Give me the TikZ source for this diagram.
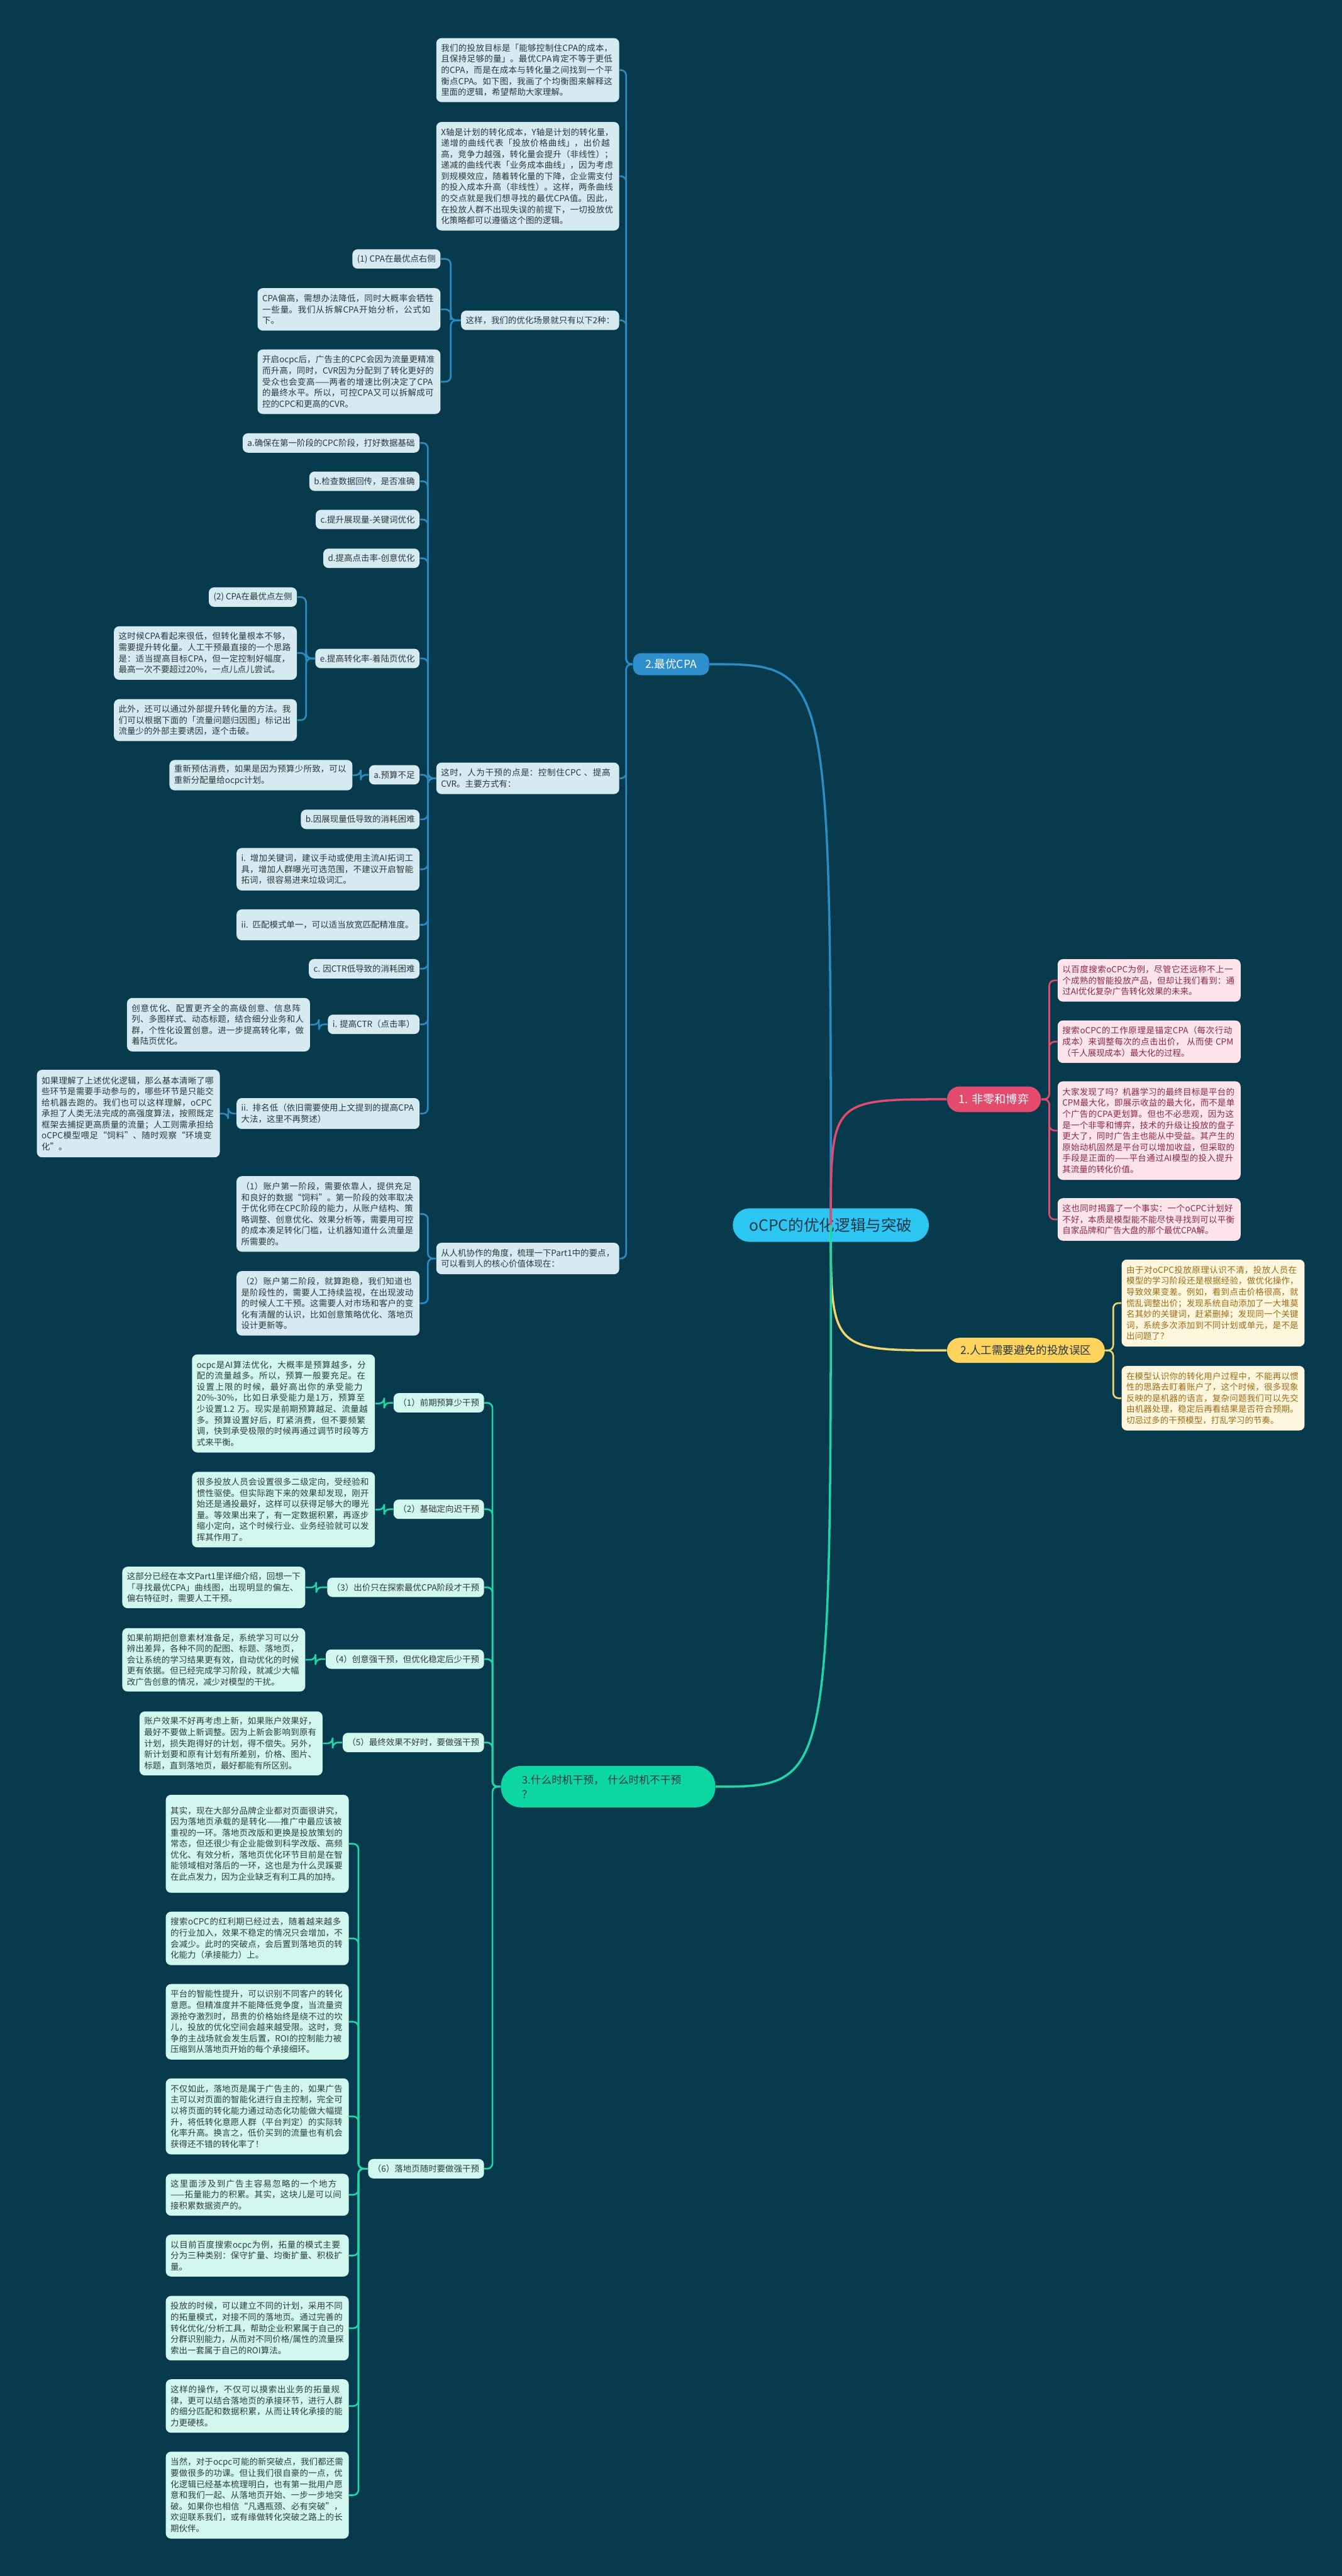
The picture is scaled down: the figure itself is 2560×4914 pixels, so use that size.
\documentclass[tikz,border=0pt]{standalone}
\usepackage{fontspec}
\setmainfont{Noto Sans CJK SC}
\XeTeXlinebreaklocale "zh"
\XeTeXlinebreakskip=0pt plus 1pt
\usetikzlibrary{calc}
\definecolor{bgc}{RGB}{8,58,77}
\definecolor{cB}{RGB}{43,140,196}
\definecolor{cBbox}{RGB}{46,143,205}
\definecolor{cBfill}{RGB}{214,234,241}
\definecolor{cBtext}{RGB}{45,55,62}
\definecolor{cP}{RGB}{228,74,110}
\definecolor{cPfill}{RGB}{253,228,234}
\definecolor{cPtext}{RGB}{140,40,70}
\definecolor{cY}{RGB}{243,213,110}
\definecolor{cYbox}{RGB}{255,211,92}
\definecolor{cYfill}{RGB}{255,246,222}
\definecolor{cYtext}{RGB}{156,108,20}
\definecolor{cG}{RGB}{30,214,167}
\definecolor{cGbox}{RGB}{12,214,162}
\definecolor{cGfill}{RGB}{210,247,238}
\definecolor{cGtext}{RGB}{45,60,60}
\definecolor{cRoot}{RGB}{44,198,243}
\definecolor{cDark}{RGB}{35,55,70}
\tikzset{
  box/.style={rounded corners=0.1cm, text width=3.31cm, align=left},
  midbox/.style={rounded corners=0.1cm, minimum height=0.37cm},
  bleaf/.style={box, fill=cBfill, text=cBtext, anchor=north east},
  gleaf/.style={box, fill=cGfill, text=cGtext, anchor=north east},
  pleaf/.style={box, fill=cPfill, text=cPtext, anchor=north west},
  yleaf/.style={box, fill=cYfill, text=cYtext, anchor=north west},
  bmid/.style={midbox, fill=cBfill, text=cBtext, anchor=east},
  gmid/.style={midbox, fill=cGfill, text=cGtext, anchor=east},
  link/.style={to path={-| ($(\tikztostart)!0.5!(\tikztotarget)$) |- (\tikztotarget)}},
  blink/.style={draw=cB, line width=0.9pt, rounded corners=0.1cm},
  plink/.style={draw=cP, line width=0.9pt, rounded corners=0.1cm},
  ylink/.style={draw=cY, line width=0.9pt, rounded corners=0.1cm},
  glink/.style={draw=cG, line width=0.9pt, rounded corners=0.1cm},
}
\begin{document}
\begin{tikzpicture}[x=0.1mm, y=-0.1mm,
  every node/.style={font=\fontsize{4.6}{6}\selectfont, inner xsep=0.09cm, inner ysep=0.05cm}]
  \fill[bgc] (0,0) rectangle (2560,4914);

  % 中心主题与四个分支
  \node[fill=cRoot, text=cDark, rounded corners=0.32cm, minimum width=3.74cm, minimum height=0.64cm,
        font=\fontsize{8.4}{10}\selectfont] (root) at (1585,2337) {oCPC的优化逻辑与突破};
  \node[fill=cBbox, text=white, rounded corners=0.15cm, minimum width=1.45cm, minimum height=0.42cm,
        anchor=west, font=\fontsize{6}{8}\selectfont] (cpa) at (1207,1267) {2.最优CPA};
  \node[fill=cP, text=white, rounded corners=0.24cm, minimum width=1.79cm, minimum height=0.49cm,
        anchor=west, font=\fontsize{6.2}{8}\selectfont] (fei) at (1806,2097) {1. 非零和博弈};
  \node[fill=cYbox, text=cDark, rounded corners=0.24cm, minimum width=3.01cm, minimum height=0.48cm,
        anchor=west, font=\fontsize{6}{8}\selectfont] (wuqu) at (1806,2576) {2.人工需要避免的投放误区};
  \node[fill=cGbox, text=cDark, rounded corners=0.38cm, text width=3.29cm, inner xsep=0.4cm, align=left,
        minimum height=0.79cm, anchor=north west, font=\fontsize{5.7}{8}\selectfont] (shiji) at (955,3368)
        {3.什么时机干预， 什么时机不干预\\？};

  % 2.最优CPA
  \node[bleaf, minimum height=1.22cm] (t1) at (1182,72) {我们的投放目标是「能够控制住CPA的成本，且保持足够的量」。最优CPA肯定不等于更低的CPA，而是在成本与转化量之间找到一个平衡点CPA。如下图，我画了个均衡图来解释这里面的逻辑，希望帮助大家理解。};
  \node[bleaf, minimum height=2.07cm] (t2) at (1182,232) {X轴是计划的转化成本，Y轴是计划的转化量，递增的曲线代表「投放价格曲线」，出价越高，竞争力越强，转化量会提升（非线性）；递减的曲线代表「业务成本曲线」，因为考虑到规模效应，随着转化量的下降，企业需支付的投入成本升高（非线性）。这样，两条曲线的交点就是我们想寻找的最优CPA值。因此，在投放人群不出现失误的前提下，一切投放优化策略都可以遵循这个图的逻辑。};
  \node[bmid] (zheyang) at (1182,611) {这样，我们的优化场景就只有以下2种：};
  \node[bmid] (right) at (841,494) {(1) CPA在最优点右侧};
  \node[bleaf, minimum height=0.81cm] (pianhigh) at (841,549) {CPA偏高，需想办法降低，同时大概率会牺牲一些量。我们从拆解CPA开始分析，公式如下。};
  \node[bleaf, minimum height=1.23cm] (kaiqi) at (841,666) {开启ocpc后，广告主的CPC会因为流量更精准而升高，同时，CVR因为分配到了转化更好的受众也会变高——两者的增速比例决定了CPA的最终水平。所以，可控CPA又可以拆解成可控的CPC和更高的CVR。};

  \node[bleaf, minimum height=0.60cm] (zheshi) at (1182,1454) {这时，人为干预的点是：控制住CPC 、提高CVR。主要方式有：};
  \node[bmid] (sa) at (801,845) {a.确保在第一阶段的CPC阶段，打好数据基础};
  \node[bmid] (sb) at (801,918) {b.检查数据回传，是否准确};
  \node[bmid] (sc) at (801,991) {c.提升展现量-关键词优化};
  \node[bmid] (sd) at (801,1065) {d.提高点击率-创意优化};
  \node[bmid] (se) at (801,1256) {e.提高转化率-着陆页优化};
  \node[bmid] (left) at (567,1139) {(2) CPA在最优点左侧};
  \node[bleaf, minimum height=1.02cm] (kandi) at (567,1194) {这时候CPA看起来很低，但转化量根本不够，需要提升转化量。人工干预最直接的一个思路是：适当提高目标CPA，但一定控制好幅度，最高一次不要超过20\%，一点儿点儿尝试。};
  \node[bleaf, minimum height=0.80cm] (waibu) at (567,1333) {此外，还可以通过外部提升转化量的方法。我们可以根据下面的「流量问题归因图」标记出流量少的外部主要诱因，逐个击破。};
  \node[bmid] (yusuan) at (801,1478) {a.预算不足};
  \node[bleaf, minimum height=0.58cm] (yugu) at (673,1449) {重新预估消费，如果是因为预算少所致，可以重新分配量给ocpc计划。};
  \node[bmid] (zhanxian) at (801,1563) {b.因展现量低导致的消耗困难};
  \node[bleaf, minimum height=0.81cm] (guanjian) at (801,1617) {i. 增加关键词，建议手动或使用主流AI拓词工具，增加人群曝光可选范围，不建议开启智能拓词，很容易进来垃圾词汇。};
  \node[bleaf, minimum height=0.59cm] (pipei) at (801,1734) {ii. 匹配模式单一，可以适当放宽匹配精准度。};
  \node[bmid] (ctrlow) at (801,1848) {c. 因CTR低导致的消耗困难};
  \node[bmid] (tigao) at (801,1954) {i. 提高CTR（点击率）};
  \node[bleaf, minimum height=1.02cm] (chuangyi) at (592,1903) {创意优化、配置更齐全的高级创意、信息阵列、多图样式、动态标题，结合细分业务和人群，个性化设置创意。进一步提高转化率，做着陆页优化。};
  \node[bleaf, minimum height=0.59cm] (paiming) at (801,2094) {ii. 排名低（依旧需要使用上文提到的提高CPA大法，这里不再赘述）};
  \node[bleaf, minimum height=1.67cm] (lijie) at (420,2040) {如果理解了上述优化逻辑，那么基本清晰了哪些环节是需要手动参与的，哪些环节是只能交给机器去跑的。我们也可以这样理解，oCPC承担了人类无法完成的高强度算法，按照既定框架去捕捉更高质量的流量；人工则需承担给oCPC模型喂足“饲料”、随时观察“环境变化”。};

  \node[bleaf, minimum height=0.60cm] (renji) at (1182,2370) {从人机协作的角度，梳理一下Part1中的要点，可以看到人的核心价值体现在：};
  \node[bleaf, minimum height=1.44cm] (jieduan1) at (801,2243) {（1）账户第一阶段，需要依靠人，提供充足和良好的数据“饲料”。第一阶段的效率取决于优化师在CPC阶段的能力，从账户结构、策略调整、创意优化、效果分析等，需要用可控的成本凑足转化门槛，让机器知道什么流量是所需要的。};
  \node[bleaf, minimum height=1.23cm] (jieduan2) at (801,2424) {（2）账户第二阶段，就算跑稳，我们知道也是阶段性的，需要人工持续监视，在出现波动的时候人工干预。这需要人对市场和客户的变化有清醒的认识，比如创意策略优化、落地页设计更新等。};

  % 1. 非零和博弈
  \node[pleaf, minimum height=0.81cm] (p1) at (2017,1829) {以百度搜索oCPC为例，尽管它还远称不上一个成熟的智能投放产品，但却让我们看到：通过AI优化复杂广告转化效果的未来。};
  \node[pleaf, minimum height=0.81cm] (p2) at (2017,1946) {搜索oCPC的工作原理是锚定CPA（每次行动成本）来调整每次的点击出价， 从而使 CPM（千人展现成本）最大化的过程。};
  \node[pleaf, minimum height=1.88cm] (p3) at (2017,2062) {大家发现了吗？机器学习的最终目标是平台的CPM最大化，即展示收益的最大化，而不是单个广告的CPA更划算。但也不必悲观，因为这是一个非零和博弈，技术的升级让投放的盘子更大了，同时广告主也能从中受益。其产生的原始动机固然是平台可以增加收益，但采取的手段是正面的——平台通过AI模型的投入提升其流量的转化价值。};
  \node[pleaf, minimum height=0.81cm] (p4) at (2017,2285) {这也同时揭露了一个事实：一个oCPC计划好不好，本质是模型能不能尽快寻找到可以平衡自家品牌和广告大盘的那个最优CPA解。};

  % 2.人工需要避免的投放误区
  \node[yleaf, minimum height=1.66cm] (y1) at (2139,2402) {由于对oCPC投放原理认识不清，投放人员在模型的学习阶段还是根据经验，做优化操作，导致效果变差。例如，看到点击价格很高，就慌乱调整出价；发现系统自动添加了一大堆莫名其妙的关键词，赶紧删掉；发现同一个关键词，系统多次添加到不同计划或单元，是不是出问题了？};
  \node[yleaf, minimum height=1.23cm] (y2) at (2139,2605) {在模型认识你的转化用户过程中，不能再以惯性的思路去盯着账户了，这个时候，很多现象反映的是机器的语言，复杂问题我们可以先交由机器处理，稳定后再看结果是否符合预期。切忌过多的干预模型，打乱学习的节奏。};

  % 3.什么时机干预
  \node[gmid] (g1) at (924,2676) {（1）前期预算少干预};
  \node[gmid] (g2) at (924,2879) {（2）基础定向迟干预};
  \node[gmid] (g3) at (924,3028) {（3）出价只在探索最优CPA阶段才干预};
  \node[gmid] (g4) at (924,3165) {（4）创意强干预，但优化稳定后少干预};
  \node[gmid] (g5) at (924,3324) {（5）最终效果不好时，要做强干预};
  \node[gmid] (g6) at (924,4137) {（6）落地页随时要做强干预};
  \node[gleaf, minimum height=1.87cm] (g1a) at (716,2583) {ocpc是AI算法优化，大概率是预算越多，分配的流量越多。所以，预算一般要充足。在设置上限的时候，最好高出你的承受能力20\%-30\%，比如日承受能力是1万，预算至少设置1.2 万。现实是前期预算越足、流量越多。预算设置好后，盯紧消费，但不要频繁调，快到承受极限的时候再通过调节时段等方式来平衡。};
  \node[gleaf, minimum height=1.44cm] (g2a) at (716,2807) {很多投放人员会设置很多二级定向，受经验和惯性驱使。但实际跑下来的效果却发现，刚开始还是通投最好，这样可以获得足够大的曝光量。等效果出来了，有一定数据积累，再逐步缩小定向，这个时候行业、业务经验就可以发挥其作用了。};
  \node[gleaf, minimum height=0.79cm] (g3a) at (583,2988) {这部分已经在本文Part1里详细介绍，回想一下「寻找最优CPA」曲线图，出现明显的偏左、偏右特征时，需要人工干预。};
  \node[gleaf, minimum height=1.21cm] (g4a) at (583,3105) {如果前期把创意素材准备足，系统学习可以分辨出差异，各种不同的配图、标题、落地页，会让系统的学习结果更有效，自动优化的时候更有依据。但已经完成学习阶段，就减少大幅改广告创意的情况，减少对模型的干扰。};
  \node[gleaf, minimum height=1.22cm] (g5a) at (616,3264) {账户效果不好再考虑上新，如果账户效果好，最好不要做上新调整。因为上新会影响到原有计划，损失跑得好的计划，得不偿失。另外，新计划要和原有计划有所差别，价格、图片、标题，直到落地页，最好都能有所区别。};
  \node[gleaf, minimum height=1.87cm] (L1) at (666,3423) {其实，现在大部分品牌企业都对页面很讲究，因为落地页承载的是转化——推广中最应该被重视的一环。落地页改版和更换是投放策划的常态，但还很少有企业能做到科学改版、高频优化、有效分析，落地页优化环节目前是在智能领域相对落后的一环，这也是为什么灵蹊要在此点发力，因为企业缺乏有利工具的加持。};
  \node[gleaf, minimum height=1.02cm] (L2) at (666,3646) {搜索oCPC的红利期已经过去，随着越来越多的行业加入，效果不稳定的情况只会增加，不会减少。此时的突破点，会后置到落地页的转化能力（承接能力）上。};
  \node[gleaf, minimum height=1.44cm] (L3) at (666,3784) {平台的智能性提升，可以识别不同客户的转化意愿。但精准度并不能降低竞争度，当流量资源抢夺激烈时，昂贵的价格始终是绕不过的坎儿，投放的优化空间会越来越受限。这时，竞争的主战场就会发生后置，ROI的控制能力被压缩到从落地页开始的每个承接细环。};
  \node[gleaf, minimum height=1.45cm] (L4) at (666,3964) {不仅如此，落地页是属于广告主的，如果广告主可以对页面的智能化进行自主控制，完全可以将页面的转化能力通过动态化功能做大幅提升，将低转化意愿人群（平台判定）的实际转化率升高。换言之，低价买到的流量也有机会获得还不错的转化率了！};
  \node[gleaf, minimum height=0.80cm] (L5) at (666,4146) {这里面涉及到广告主容易忽略的一个地方——拓量能力的积累。其实，这块儿是可以间接积累数据资产的。};
  \node[gleaf, minimum height=0.80cm] (L6) at (666,4262) {以目前百度搜索ocpc为例，拓量的模式主要分为三种类别：保守扩量、均衡扩量、积极扩量。};
  \node[gleaf, minimum height=1.23cm] (L7) at (666,4379) {投放的时候，可以建立不同的计划，采用不同的拓量模式，对接不同的落地页。通过完善的转化优化/分析工具，帮助企业积累属于自己的分群识别能力，从而对不同价格/属性的流量探索出一套属于自己的ROI算法。};
  \node[gleaf, minimum height=1.02cm] (L8) at (666,4538) {这样的操作，不仅可以摸索出业务的拓量规律，更可以结合落地页的承接环节，进行人群的细分匹配和数据积累，从而让转化承接的能力更硬核。};
  \node[gleaf, minimum height=1.66cm] (L9) at (666,4676) {当然，对于ocpc可能的新突破点，我们都还需要做很多的功课。但让我们很自豪的一点，优化逻辑已经基本梳理明白，也有第一批用户愿意和我们一起、从落地页开始、一步一步地突破。如果你也相信“凡遇瓶颈、必有突破”，欢迎联系我们，或有缘做转化突破之路上的长期伙伴。};

  % 连线
  \draw[cB, line width=1.2pt] (root.center) .. controls (root.center |- cpa.east) .. (cpa.east);
  \draw[cP, line width=1.2pt] (root.center) .. controls (root.center |- fei.west) .. (fei.west);
  \draw[cY, line width=1.2pt] (root.center) .. controls (root.center |- wuqu.west) .. (wuqu.west);
  \draw[cG, line width=1.2pt] (root.center) .. controls (root.center |- shiji.east) .. (shiji.east);
  \foreach \c in {t1,t2,zheyang,zheshi,renji} \draw[blink] (cpa.west) to[link] (\c.east);
  \foreach \c in {right,pianhigh,kaiqi} \draw[blink] (zheyang.west) to[link] (\c.east);
  \foreach \c in {sa,sb,sc,sd,se,yusuan,zhanxian,guanjian,pipei,ctrlow,tigao,paiming}
    \draw[blink] (zheshi.west) to[link] (\c.east);
  \foreach \c in {left,kandi,waibu} \draw[blink] (se.west) to[link] (\c.east);
  \draw[blink] (yusuan.west) to[link] (yugu.east);
  \draw[blink] (tigao.west) to[link] (chuangyi.east);
  \draw[blink] (paiming.west) to[link] (lijie.east);
  \foreach \c in {jieduan1,jieduan2} \draw[blink] (renji.west) to[link] (\c.east);
  \foreach \c in {p1,p2,p3,p4} \draw[plink] (fei.east) to[link] (\c.west);
  \foreach \c in {y1,y2} \draw[ylink] (wuqu.east) to[link] (\c.west);
  \foreach \c in {g1,g2,g3,g4,g5,g6} \draw[glink] (shiji.west) to[link] (\c.east);
  \foreach \c in {1,2,3,4,5} \draw[glink] (g\c.west) to[link] (g\c a.east);
  \foreach \c in {L1,L2,L3,L4,L5,L6,L7,L8,L9} \draw[glink] (g6.west) to[link] (\c.east);
\end{tikzpicture}
\end{document}
